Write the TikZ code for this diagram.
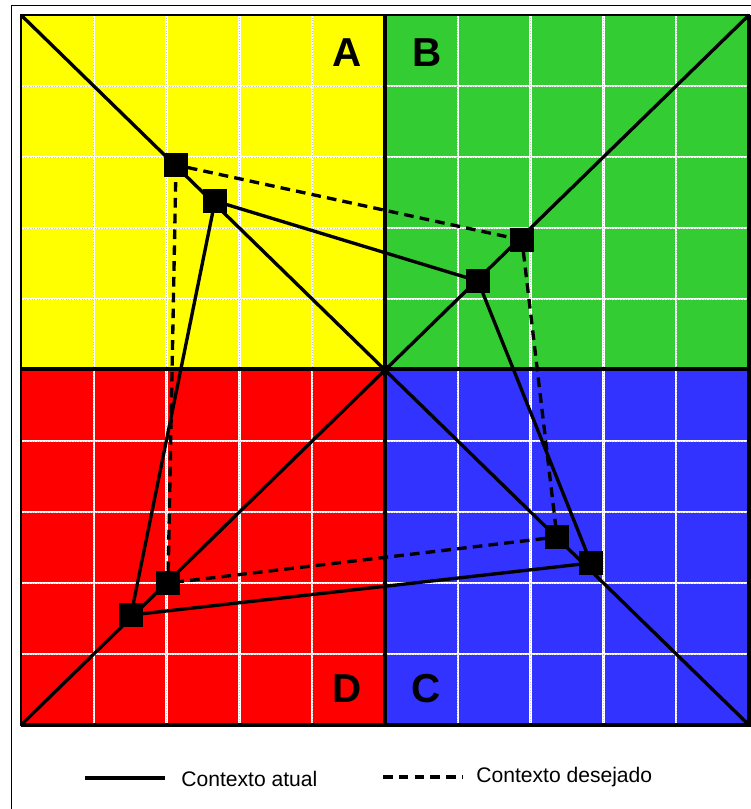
\documentclass[tikz,border=0pt]{standalone}
\usepackage{fontspec}
\setmainfont{Liberation Sans}
\usepackage{tikz}
\usetikzlibrary{positioning}
\definecolor{quadA}{RGB}{255,255,0}
\definecolor{quadB}{RGB}{51,204,51}
\definecolor{quadC}{RGB}{51,51,255}
\definecolor{quadD}{RGB}{255,0,0}

\begin{document}
\begin{tikzpicture}[x=0.02cm, y=-0.02cm,
  marker/.style={rectangle, draw, fill=black, minimum size=0.46cm, inner sep=0pt},
  quadlabel/.style={font=\fontsize{23}{26}\selectfont\bfseries, inner sep=0pt},
  legtext/.style={font=\fontsize{12}{14}\selectfont, anchor=west, inner sep=0pt},
  actual/.style={line width=1.9pt},
  desired/.style={line width=1.9pt, dash pattern=on 5.5pt off 3.5pt},
  gridline/.style={draw=white, line width=1.4pt},
  griddots/.style={draw=gray!45, line width=0.5pt, densely dotted}
]
\useasboundingbox (0,0) rectangle (751,809);
\clip (0,0) rectangle (751,809);

% --------- OUTER FRAME ----------
\draw[line width=0.8pt] (11.5,5.5) rectangle (800,850);

% --------- QUADRANTS ----------
\coordinate (TL) at (21,15);
\coordinate (TR) at (749,15);
\coordinate (BR) at (749,725);
\coordinate (BL) at (21,725);
\coordinate (O) at (385,369);

\fill[quadA] (TL) rectangle (O);
\fill[quadB] (385,15) rectangle (749,369);
\fill[quadC] (O) rectangle (BR);
\fill[quadD] (21,369) rectangle (385,725);

% grid
\foreach \k in {1,...,9} {
  \draw[gridline] ({21+72.8*\k},15) -- ({21+72.8*\k},725);
  \draw[griddots] ({21+72.8*\k},15) -- ({21+72.8*\k},725);
  \draw[gridline] (21,{15+71*\k}) -- (749,{15+71*\k});
  \draw[griddots] (21,{15+71*\k}) -- (749,{15+71*\k});
}

% axes and border
\draw[line width=2.3pt] (385,15) -- (385,725);
\draw[line width=2.3pt] (21,369) -- (749,369);
\draw[line width=1pt] (TL) rectangle (BR);
\draw[line width=1.8pt] (BL) -- (BR) -- (TR);

% diagonals
\draw[actual] (TL) -- (BR);
\draw[actual] (BL) -- (TR);

% quadrant names
\node[quadlabel] (labA) at (347,53) {A};
\node[quadlabel] (labB) at (427,53) {B};
\node[quadlabel] (labD) at (347,689) {D};
\node[quadlabel] (labC) at (426,689) {C};

% --------- CONTEXTS ----------
% desired context
\node[marker] (dA) at (176,165) {};
\node[marker] (dB) at (522,240) {};
\node[marker] (dC) at (557,537) {};
\node[marker] (dD) at (168,583) {};

% current context
\node[marker] (cA) at (215,201) {};
\node[marker] (cB) at (478,281) {};
\node[marker] (cC) at (591,563) {};
\node[marker] (cD) at (131,615) {};

\draw[desired] (dA) -- (dB) -- (dC) -- (dD) -- (dA);
\draw[actual] (cA) -- (cB) -- (cC) -- (cD) -- (cA);

% --------- LEGEND ----------
\coordinate (l1a) at (85,778);
\coordinate (l1b) at (165,778);
\coordinate (l2a) at (383,777);
\coordinate (l2b) at (463,777);
\draw[actual] (l1a) -- (l1b);
\draw[desired] (l2a) -- (l2b);
\node[legtext] (legA) at (181,779) {Contexto atual};
\node[legtext] (legD) at (476,777) {Contexto desejado};

\end{tikzpicture}
\end{document}
